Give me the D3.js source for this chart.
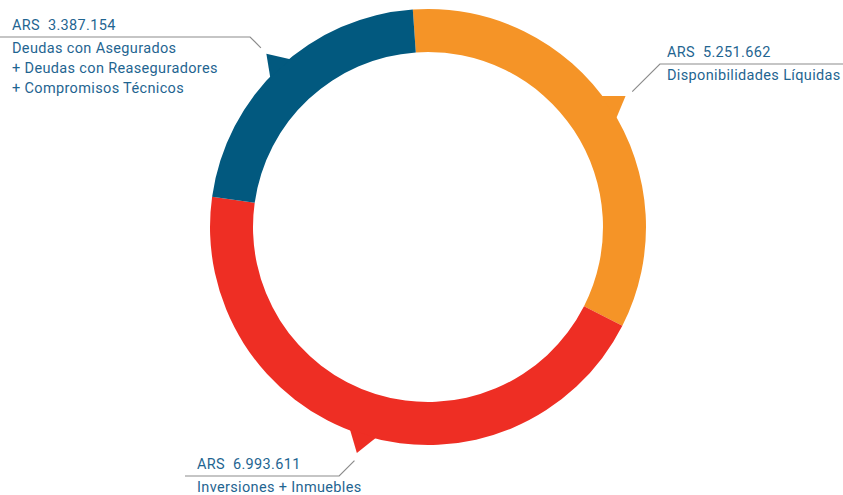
<!DOCTYPE html>
<html lang="es">
<head>
    <meta charset="UTF-8">
    <title>Composición del activo</title>
    <script src="https://d3js.org/d3.v7.min.js"></script>
    <style>
        body { margin: 0; background: #fff; }
        .label { font-family: Roboto, "DejaVu Sans", sans-serif; font-size: 14.5px; letter-spacing: 0.35px; fill: #1f6591; white-space: pre; }
        .leader { fill: none; stroke: #8c8c8c; stroke-width: 1.2px; }
    </style>
</head>
<body>
    <script>
        // data, in drawing order (clockwise from the top)
        const categories = [
            ["Disponibilidades Líquidas"],
            ["Inversiones + Inmuebles"],
            ["Deudas con Asegurados", "+ Deudas con Reaseguradores", "+ Compromisos Técnicos"]
        ];
        const values = [5251662, 6993611, 3387154];
        const valueLabels = ["ARS  5.251.662", "ARS  6.993.611", "ARS  3.387.154"];
        const colors = ["#f59427", "#ee2e24", "#02597f"];

        const width = 843;
        const height = 495;
        const cx = 428, cy = 227;
        const outerR = 218, innerR = 175;

        // label blocks: side, x of the text, y of the rule under the amount
        const labelSide = ["right", "left", "left"];
        const labelX = [667, 197, 12];
        const ruleY = [64, 476, 37];

        const svg = d3.select("body").append("svg")
            .attr("width", width)
            .attr("height", height);

        const g = svg.append("g").attr("transform", `translate(${cx},${cy})`);

        const deg = Math.PI / 180;
        const pie = d3.pie().sort(null)
            .startAngle(-4 * deg)
            .endAngle(356 * deg);
        const arcs = pie(values);

        const arc = d3.arc().innerRadius(innerR).outerRadius(outerR);

        g.selectAll("path.slice")
            .data(arcs)
            .enter().append("path")
            .attr("class", "slice")
            .attr("d", arc)
            .attr("fill", (d, i) => colors[i]);

        // little pointer on the outside of every slice
        const tail = d => {
            const mid = (d.startAngle + d.endAngle) / 2;
            const a = d3.pointRadial(mid - 3.6 * deg, outerR - 1);
            const b = d3.pointRadial(mid, outerR + 19);
            const c = d3.pointRadial(mid + 3.6 * deg, outerR - 1);
            return `M${a}L${b}L${c}Z`;
        };

        g.selectAll("path.tail")
            .data(arcs)
            .enter().append("path")
            .attr("class", "tail")
            .attr("d", tail)
            .attr("fill", (d, i) => colors[i]);

        // leader lines and labels
        arcs.forEach((d, i) => {
            const mid = (d.startAngle + d.endAngle) / 2;
            const p0 = d3.pointRadial(mid, outerR + 27);
            const x0 = p0[0] + cx, y0 = p0[1] + cy;
            const y1 = ruleY[i];
            const dir = labelSide[i] === "right" ? 1 : -1;
            const x1 = x0 + dir * Math.abs(y1 - y0);
            const xEnd = labelSide[i] === "right" ? width : labelX[i] - 12;

            svg.append("path")
                .attr("class", "leader")
                .attr("d", `M${x0},${y0}L${x1},${y1}L${xEnd},${y1}`);

            svg.append("text")
                .attr("class", "label")
                .attr("x", labelX[i])
                .attr("y", y1 - 7)
                .text(valueLabels[i]);

            categories[i].forEach((line, j) => {
                svg.append("text")
                    .attr("class", "label")
                    .attr("x", labelX[i])
                    .attr("y", y1 + 16 + j * 20)
                    .text(line);
            });
        });
    </script>
</body>
</html>
